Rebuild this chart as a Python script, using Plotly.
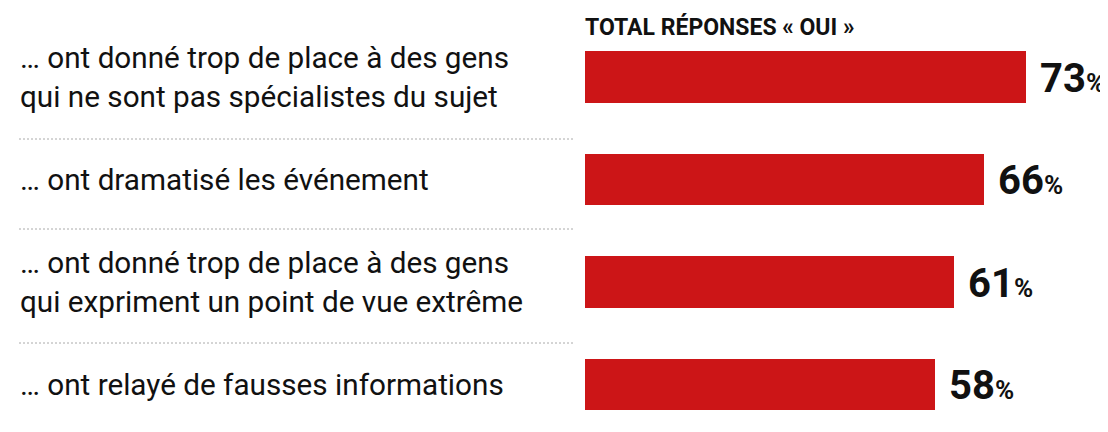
import plotly.graph_objects as go

labels = [
    "… ont donné trop de place à des gens<br>qui ne sont pas spécialistes du sujet",
    "… ont dramatisé les événement",
    "… ont donné trop de place à des gens<br>qui expriment un point de vue extrême",
    "… ont relayé de fausses informations",
]
values = [73, 66, 61, 58]
header = "TOTAL RÉPONSES « OUI »"

W, H = 1108, 432
OFF = 8  # page body margin
RED = "#CC1517"
TXT = "#111111"
FONT = "Roboto"

pos = list(range(len(values)))

fig = go.Figure()
fig.add_trace(go.Bar(
    x=values, y=pos, orientation="h",
    marker=dict(color=RED, line=dict(width=0)),
    width=0.5, hoverinfo="skip", showlegend=False,
))

annotations = []
for i, (lab, v) in enumerate(zip(labels, values)):
    annotations.append(dict(
        x=(18 - OFF) / W, xref="paper", y=i, yref="y", xanchor="left", yanchor="middle",
        text=lab, align="left", showarrow=False,
        font=dict(family=FONT, size=29.7, color=TXT),
    ))
    annotations.append(dict(
        x=v, xref="x", y=i, yref="y", xanchor="left", yanchor="middle",
        text=f"<b>{v}</b><b><span style='font-size:26px'>%</span></b>",
        showarrow=False, xshift=12, yshift=-1,
        font=dict(family=FONT, size=40, color=TXT),
    ))

annotations.append(dict(
    x=(583 - OFF) / W, xref="paper", y=1 - (27 - OFF) / H, yref="paper",
    xanchor="left", yanchor="middle",
    text=f"<b>{header}</b>", showarrow=False,
    font=dict(family=FONT, size=23, color=TXT),
))

shapes = []
for ypx in [139, 229, 343]:
    yy = 1 - (ypx - OFF) / H
    shapes.append(dict(
        type="line", xref="paper", yref="paper",
        x0=(19 - OFF) / W, x1=(573 - OFF) / W, y0=yy, y1=yy,
        line=dict(color="#AAAAAA", width=1, dash="2px,2px"),
    ))

x0px = 585 - OFF
scale = 6.042
top_c, bot_c = 77 - OFF, 384.5 - OFF
unit = (bot_c - top_c) / 3

fig.update_layout(
    width=W, height=H,
    margin=dict(l=0, r=0, t=0, b=0),
    paper_bgcolor="white", plot_bgcolor="white",
    xaxis=dict(domain=[x0px / W, 1], range=[0, (W - x0px) / scale],
               visible=False, fixedrange=True),
    yaxis=dict(range=[3 + (H - bot_c) / unit, -top_c / unit],
               visible=False, fixedrange=True),
    annotations=annotations, shapes=shapes,
    bargap=0,
)

fig.write_html("out.html", config={"displayModeBar": False})
